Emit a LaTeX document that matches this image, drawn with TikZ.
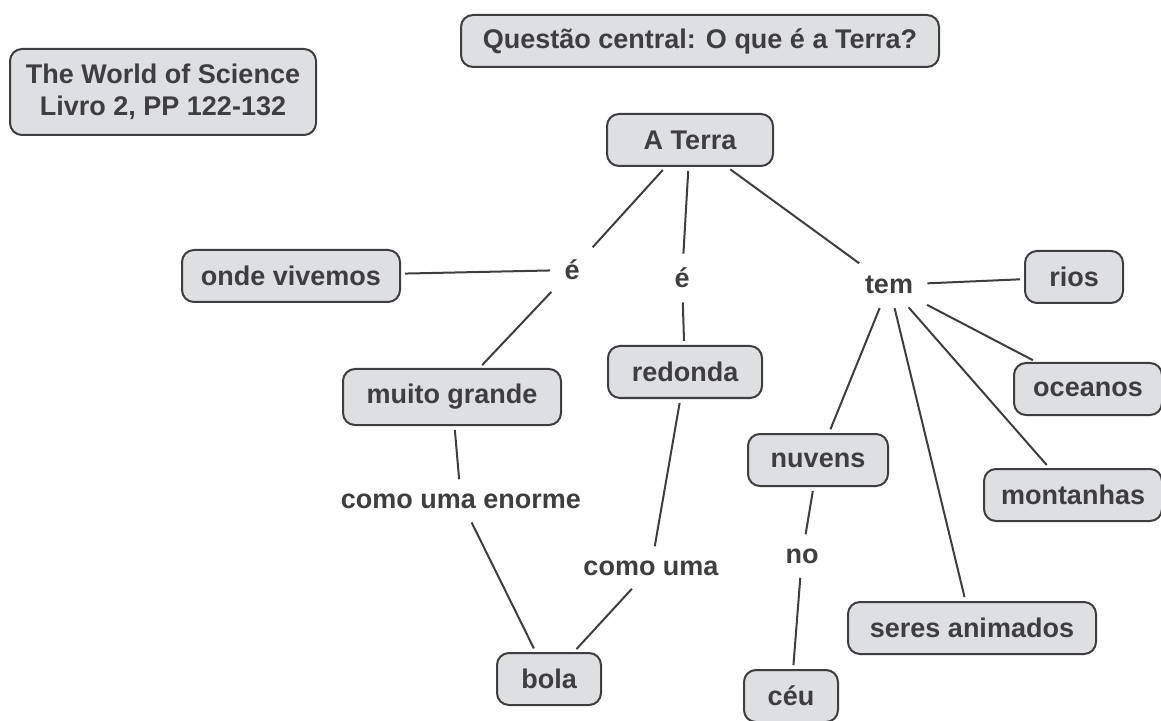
\documentclass[tikz,border=0pt]{standalone}
\usepackage{fontspec}
\setmainfont{Liberation Sans}
\usepackage{xcolor}
\definecolor{cmfill}{RGB}{222,223,227}
\definecolor{cmdark}{RGB}{62,62,64}
\usetikzlibrary{positioning}

\begin{document}
\begin{tikzpicture}[x=0.5pt, y=-0.5pt,
    concept/.style={draw=cmdark, fill=cmfill, line width=1pt, rounded corners=6pt,
      font=\fontsize{13.5}{16}\selectfont\bfseries, text=cmdark, align=center,
      minimum height=26pt, inner sep=2pt},
    linkword/.style={font=\fontsize{13.5}{16}\selectfont\bfseries, text=cmdark, inner sep=5pt},
    link/.style={draw=cmdark, line width=1pt, shorten <=2pt, shorten >=2pt}]
  \useasboundingbox (0,0) rectangle (1161,721);

  % concepts
  \node[concept, minimum width=239pt] (question) at (700,41) {Questão central: O que é a Terra?};
  \node[concept, minimum width=153pt, minimum height=43pt] (source) at (163,92)
        {The World of Science\\Livro 2, PP 122-132};
  \node[concept, minimum width=83pt] (terra) at (690,140) {A Terra};
  \node[concept, minimum width=109pt] (vivemos) at (291,276) {onde vivemos};
  \node[concept, minimum width=49pt] (rios) at (1074,277) {rios};
  \node[concept, minimum width=109pt, minimum height=28pt] (grande) at (452,397) {muito grande};
  \node[concept, minimum width=77pt] (redonda) at (685,372) {redonda};
  \node[concept, minimum width=74pt] (oceanos) at (1088,389) {oceanos};
  \node[concept, minimum width=70pt] (nuvens) at (818,460) {nuvens};
  \node[concept, minimum width=89pt] (montanhas) at (1073,495) {montanhas};
  \node[concept, minimum width=124pt] (seres) at (972,628) {seres animados};
  \node[concept, minimum width=52pt] (bola) at (549,679) {bola};
  \node[concept, minimum width=47pt] (ceu) at (791,696) {céu};

  % linking words
  \node[linkword] (eleft) at (572,270) {é};
  \node[linkword] (emid) at (682,278) {é};
  \node[linkword] (tem) at (889,285) {tem};
  \node[linkword] (enorme) at (461,501) {como uma enorme};
  \node[linkword] (comouma) at (651,568) {como uma};
  \node[linkword] (no) at (802,556) {no};

  % connectors
  \draw[link] (terra) -- (eleft);
  \draw[link] (eleft) -- (vivemos);
  \draw[link] (eleft) -- (grande);
  \draw[link] (terra) -- (emid);
  \draw[link] (emid) -- (redonda);
  \draw[link] (terra) -- (tem);
  \draw[link] (tem) -- (rios);
  \draw[link] (tem) -- (oceanos);
  \draw[link] (tem) -- (montanhas);
  \draw[link] (tem) -- (seres);
  \draw[link] (tem) -- (nuvens);
  \draw[link] (nuvens) -- (no);
  \draw[link] (no) -- (ceu);
  \draw[link] (grande) -- (enorme);
  \draw[link] (enorme) -- (bola);
  \draw[link] (redonda) -- (comouma);
  \draw[link] (comouma) -- (bola);
\end{tikzpicture}
\end{document}
